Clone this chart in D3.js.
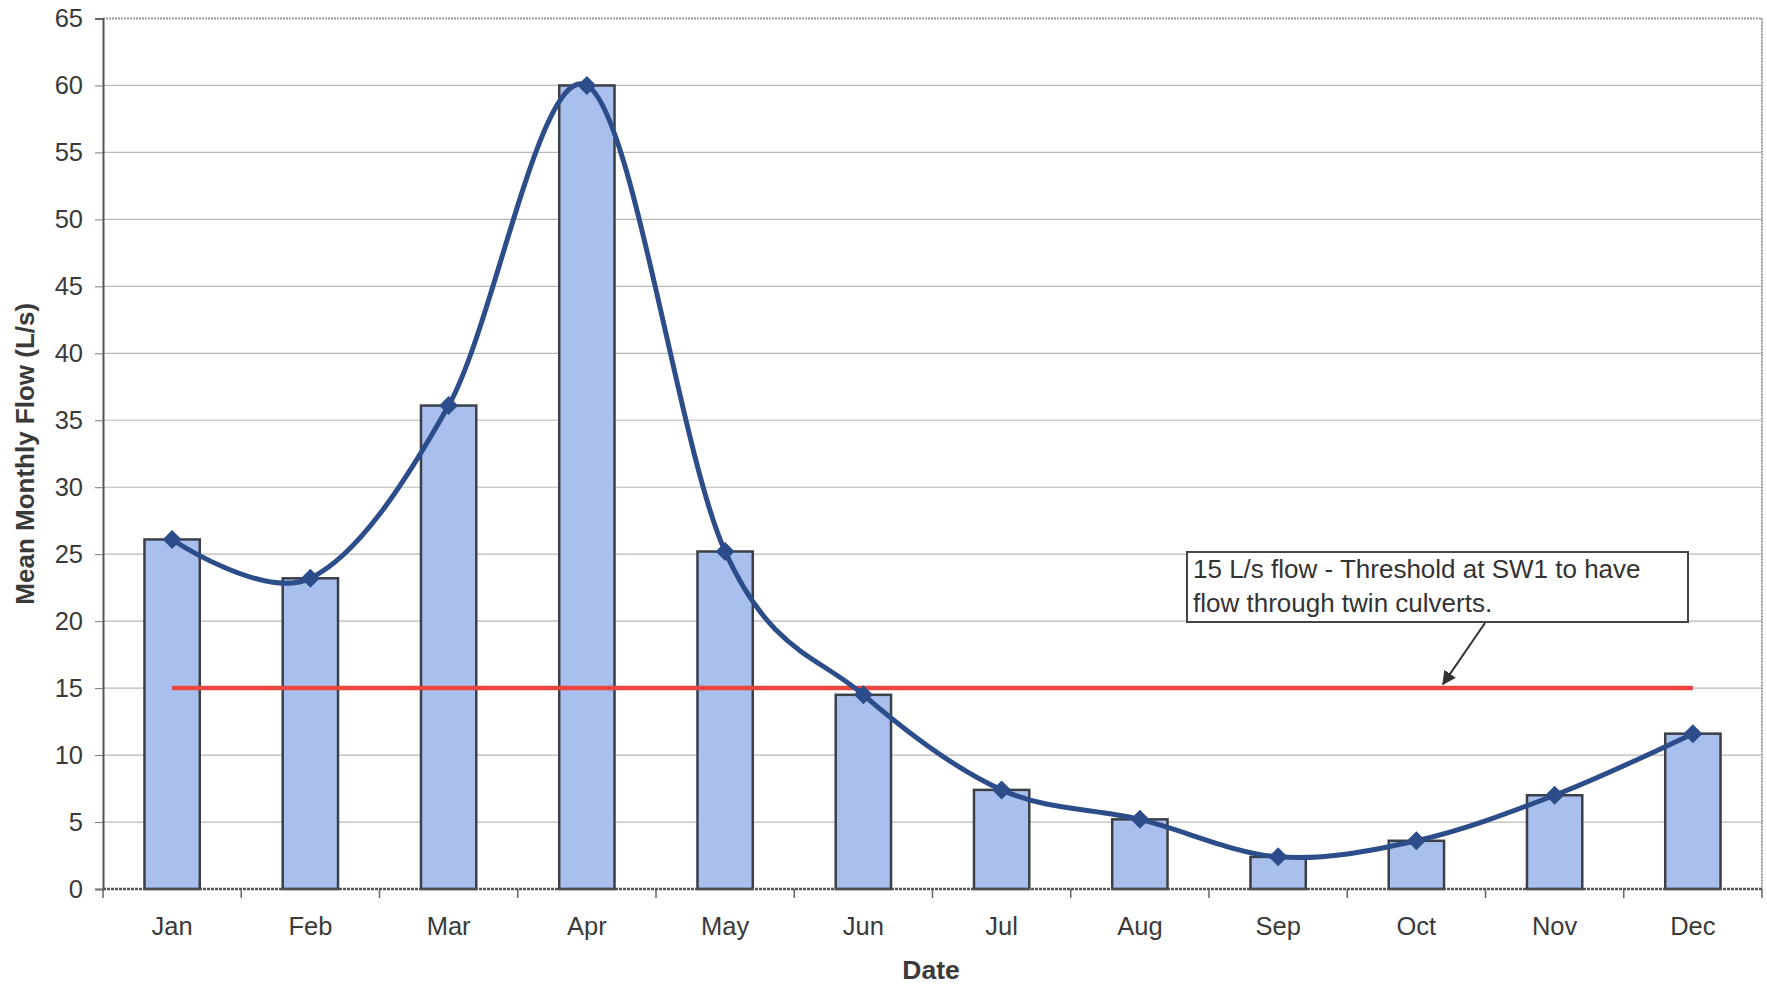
<!DOCTYPE html>
<html>
<head>
<meta charset="utf-8">
<script src="https://cdn.jsdelivr.net/npm/d3@7"></script>
<style>
  html, body { margin: 0; padding: 0; background: #fff; }
  svg { display: block; font-family: "Liberation Sans", Arial, sans-serif; }
</style>
</head>
<body>
<svg id="chart" width="1767" height="986"></svg>
<script>
// Mean monthly flow (L/s) by month
const months = ["Jan", "Feb", "Mar", "Apr", "May", "Jun", "Jul", "Aug", "Sep", "Oct", "Nov", "Dec"];
const flow = [26.1, 23.2, 36.1, 60.0, 25.2, 14.5, 7.4, 5.2, 2.4, 3.6, 7.0, 11.6];
const threshold = 15;
const yTicks = [0, 5, 10, 15, 20, 25, 30, 35, 40, 45, 50, 55, 60, 65];
const noteLines = ["15 L/s flow - Threshold at SW1 to have", "flow through twin culverts."];

const svg = d3.select("#chart");
const m = { left: 103, right: 5, top: 18.5, bottom: 97 };
const W = 1767, H = 986;
const iw = W - m.left - m.right, ih = H - m.top - m.bottom;

const g = svg.append("g").attr("transform", `translate(${m.left},${m.top})`);

const x = d3.scaleBand().domain(months).range([0, iw]).paddingInner(0.6).paddingOuter(0.3);
const xc = d => x(d) + x.bandwidth() / 2;
const y = d3.scaleLinear().domain([0, 65]).range([ih, 0]);

// horizontal gridlines
g.append("g").selectAll("line").data(yTicks.filter(t => t > 0 && t < 65)).join("line")
  .attr("x1", 0).attr("x2", iw)
  .attr("y1", d => y(d)).attr("y2", d => y(d))
  .attr("stroke", "#b8b8b8").attr("stroke-width", 1.2);

// plot frame: top and right edges
g.append("path")
  .attr("d", `M0,0H${iw}V${ih}`)
  .attr("fill", "none").attr("stroke", "#9a9a9a").attr("stroke-width", 2)
  .attr("stroke-dasharray", "2,1");

// bars
g.append("g").selectAll("rect").data(months).join("rect")
  .attr("x", d => x(d)).attr("width", x.bandwidth())
  .attr("y", (d, i) => y(flow[i])).attr("height", (d, i) => ih - y(flow[i]))
  .attr("fill", "#a9bfee").attr("stroke", "#3b4047").attr("stroke-width", 2.5);

// threshold line
g.append("line")
  .attr("x1", xc(months[0])).attr("x2", xc(months[months.length - 1]))
  .attr("y1", y(threshold)).attr("y2", y(threshold))
  .attr("stroke", "#e8463e").attr("stroke-width", 4.5);

// smoothed flow line
const pts = months.map((d, i) => [xc(d), y(flow[i])]);
g.append("path")
  .datum(pts)
  .attr("d", d3.line().curve(d3.curveCatmullRom.alpha(0)))
  .attr("fill", "none").attr("stroke", "#2d4d8a").attr("stroke-width", 5);

// diamond markers
g.append("g").selectAll("path").data(pts).join("path")
  .attr("transform", d => `translate(${d[0]},${d[1]})`)
  .attr("d", "M0,-9.5L9.5,0L0,9.5L-9.5,0Z")
  .attr("fill", "#2d4d8a");

// y axis
const yAxis = g.append("g").call(d3.axisLeft(y).tickValues(yTicks).tickSize(8).tickPadding(12));
yAxis.select(".domain").attr("stroke", "#555").attr("stroke-width", 2);
yAxis.selectAll(".tick line").attr("stroke", "#777");
yAxis.selectAll(".tick text").attr("font-size", 25.5).attr("fill", "#3a3a3a")
  .attr("font-family", "Liberation Sans, Arial, sans-serif");

// x axis: ticks sit between categories
const xAxisG = g.append("g").attr("transform", `translate(0,${ih})`);
xAxisG.append("line").attr("x1", 0).attr("x2", iw).attr("stroke", "#555").attr("stroke-width", 2.5)
  .attr("stroke-dasharray", "3,1");
xAxisG.selectAll("line.tk").data(d3.range(months.length + 1)).join("line").attr("class", "tk")
  .attr("x1", i => i * iw / months.length).attr("x2", i => i * iw / months.length)
  .attr("y1", 0).attr("y2", 9).attr("stroke", "#666").attr("stroke-width", 1.5);
xAxisG.selectAll("text").data(months).join("text")
  .attr("x", d => xc(d)).attr("y", 46)
  .attr("text-anchor", "middle").attr("font-size", 25.5).attr("fill", "#3a3a3a")
  .text(d => d);

// axis titles
svg.append("text")
  .attr("transform", `translate(34,${m.top + ih / 2}) rotate(-90)`)
  .attr("text-anchor", "middle").attr("font-size", 26).attr("font-weight", "bold").attr("fill", "#3a3a3a")
  .text("Mean Monthly Flow (L/s)");
svg.append("text")
  .attr("x", 931).attr("y", 979)
  .attr("text-anchor", "middle").attr("font-size", 26.5).attr("font-weight", "bold").attr("fill", "#3a3a3a")
  .text("Date");

// annotation box with arrow to the threshold line
const note = svg.append("g");
note.append("rect").attr("x", 1187).attr("y", 552).attr("width", 501).attr("height", 70)
  .attr("fill", "#fff").attr("stroke", "#444").attr("stroke-width", 2);
note.selectAll("text").data(noteLines).join("text")
  .attr("x", 1193).attr("y", (d, i) => 578 + i * 34)
  .attr("font-size", 26).attr("fill", "#333").text(d => d);

svg.append("defs").append("marker")
  .attr("id", "arrowhead").attr("viewBox", "0 0 10 10").attr("refX", 9).attr("refY", 5)
  .attr("markerWidth", 7).attr("markerHeight", 7).attr("orient", "auto")
  .append("path").attr("d", "M0,0L10,5L0,10Z").attr("fill", "#333");
const arrowEndY = m.top + y(threshold) - 4;
note.append("line").attr("x1", 1485).attr("y1", 623).attr("x2", 1443).attr("y2", arrowEndY)
  .attr("stroke", "#333").attr("stroke-width", 2).attr("marker-end", "url(#arrowhead)");
</script>
</body>
</html>
